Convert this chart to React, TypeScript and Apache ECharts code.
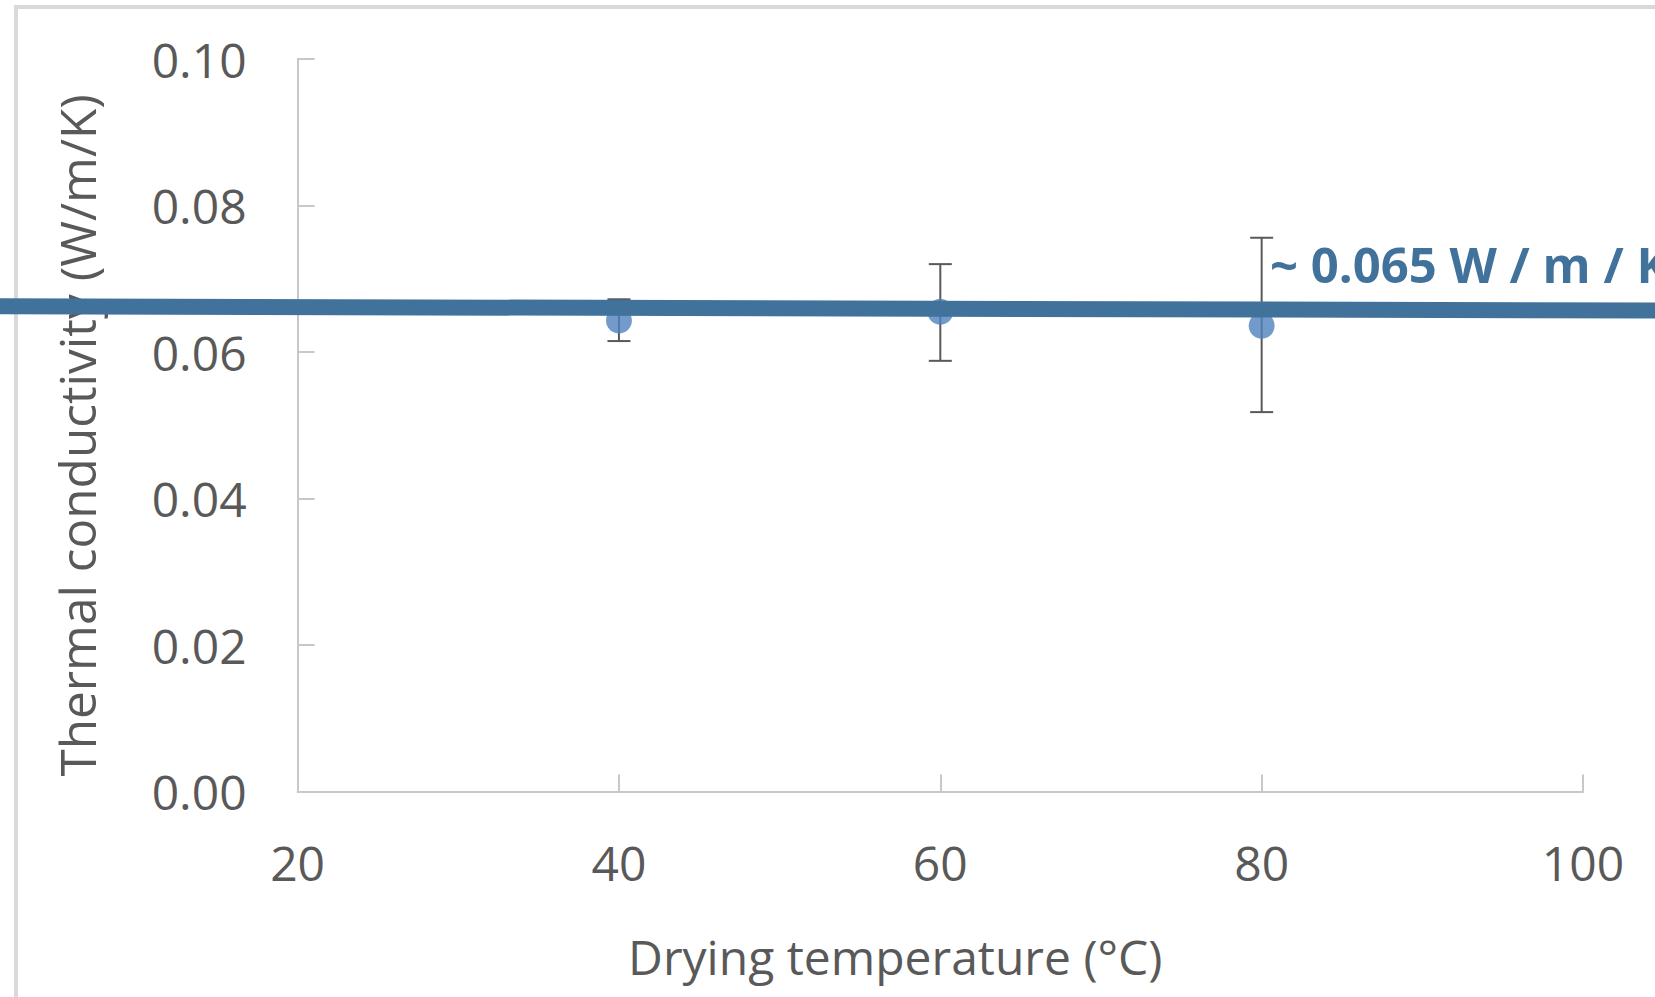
import React, { useEffect, useRef } from "react";
import * as echarts from "echarts";

// Drying temperature (°C)
const temps = [40, 60, 80];
// Mean thermal conductivity (W/m/K)
const conductivity = [0.0643, 0.0655, 0.0636];
// Error bar ends
const errLow = [0.0615, 0.0588, 0.0518];
const errHigh = [0.0672, 0.072, 0.0756];
// Hand-drawn reference line (~0.065 W/m/K): start and end points
const refX = [0, 106];
const refY = [0.06625, 0.06565];
const annotation = "~ 0.065 W / m / K";

const FONT = "'Open Sans', sans-serif";
const GREY = "#595959";
const AXIS = "#c8c8c8";

export default function App() {
  const ref = useRef<HTMLDivElement>(null);

  useEffect(() => {
    document.body.style.margin = "0";
    if (!ref.current) return;
    const chart = echarts.init(ref.current, undefined, { renderer: "svg" });
    chart.setOption({
      animation: false,
      backgroundColor: "#ffffff",
      grid: { left: 297.6, right: 72, top: 59, bottom: 205.4, containLabel: false },
      xAxis: {
        type: "value",
        min: 20,
        max: 100,
        interval: 20,
        name: "Drying temperature (°C)",
        nameLocation: "middle",
        nameGap: 141,
        nameTextStyle: { fontFamily: FONT, fontSize: 48, color: GREY, padding: [0, 90, 0, 0] },
        axisLine: { show: true, lineStyle: { color: AXIS, width: 2 } },
        axisTick: { show: true, inside: true, length: 17, lineStyle: { color: AXIS, width: 2 } },
        axisLabel: { fontFamily: FONT, fontSize: 48, color: GREY, margin: 47 },
        splitLine: { show: false },
      },
      yAxis: {
        type: "value",
        min: 0,
        max: 0.1,
        interval: 0.02,
        name: "Thermal conductivity (W/m/K)",
        nameLocation: "middle",
        nameRotate: 90,
        nameGap: 196,
        nameTextStyle: { fontFamily: FONT, fontSize: 49.5, color: GREY, padding: [0, 20, 0, 0] },
        axisLine: { show: true, lineStyle: { color: AXIS, width: 2 } },
        axisTick: { show: true, inside: true, length: 17, lineStyle: { color: AXIS, width: 2 } },
        axisLabel: {
          fontFamily: FONT,
          fontSize: 48,
          color: GREY,
          margin: 51,
          formatter: (v: number) => v.toFixed(2),
        },
        splitLine: { show: false },
      },
      graphic: [
        {
          type: "rect",
          shape: { x: 16, y: 7, width: 3000, height: 3000 },
          style: { fill: "none", stroke: "#d9d9d9", lineWidth: 4 },
          z: 0,
          silent: true,
        },
        {
          type: "text",
          x: 1270,
          y: 264,
          style: {
            text: annotation,
            fontFamily: FONT,
            fontSize: 49,
            fontWeight: "bold",
            fill: "#41729b",
            verticalAlign: "middle",
            align: "left",
          },
          z: 100,
        },
      ],
      series: [
        {
          type: "custom",
          name: "error",
          data: temps.map((t, i) => [t, errLow[i], errHigh[i]]),
          encode: { x: 0, y: [1, 2] },
          z: 2,
          renderItem: (params: any, api: any) => {
            const x = api.value(0);
            const top = api.coord([x, api.value(2)]);
            const bot = api.coord([x, api.value(1)]);
            const half = 11.5;
            const style = { stroke: GREY, lineWidth: 2 };
            return {
              type: "group",
              children: [
                { type: "line", shape: { x1: top[0], y1: top[1], x2: bot[0], y2: bot[1] }, style },
                { type: "line", shape: { x1: top[0] - half, y1: top[1], x2: top[0] + half, y2: top[1] }, style },
                { type: "line", shape: { x1: bot[0] - half, y1: bot[1], x2: bot[0] + half, y2: bot[1] }, style },
              ],
            };
          },
        },
        {
          type: "scatter",
          name: "Thermal conductivity",
          data: temps.map((t, i) => [t, conductivity[i]]),
          symbol: "circle",
          symbolSize: 26,
          itemStyle: { color: "#4f81bd" },
          z: 3,
        },
        {
          type: "custom",
          name: "reference",
          data: [[refX[0], refY[0], refX[1], refY[1]]],
          encode: { x: [0, 2], y: [1, 3] },
          clip: false,
          z: 5,
          renderItem: (params: any, api: any) => {
            const a = api.coord([api.value(0), api.value(1)]);
            const b = api.coord([api.value(2), api.value(3)]);
            return {
              type: "line",
              shape: { x1: a[0], y1: a[1], x2: b[0], y2: b[1] },
              style: { stroke: "#41729b", lineWidth: 16 },
            };
          },
        },
      ],
    });
    return () => chart.dispose();
  }, []);

  return (
    <div style={{ position: "relative", width: 1655, height: 997, overflow: "hidden" }}>
      <div ref={ref} style={{ width: 1655, height: 997 }} />
    </div>
  );
}
